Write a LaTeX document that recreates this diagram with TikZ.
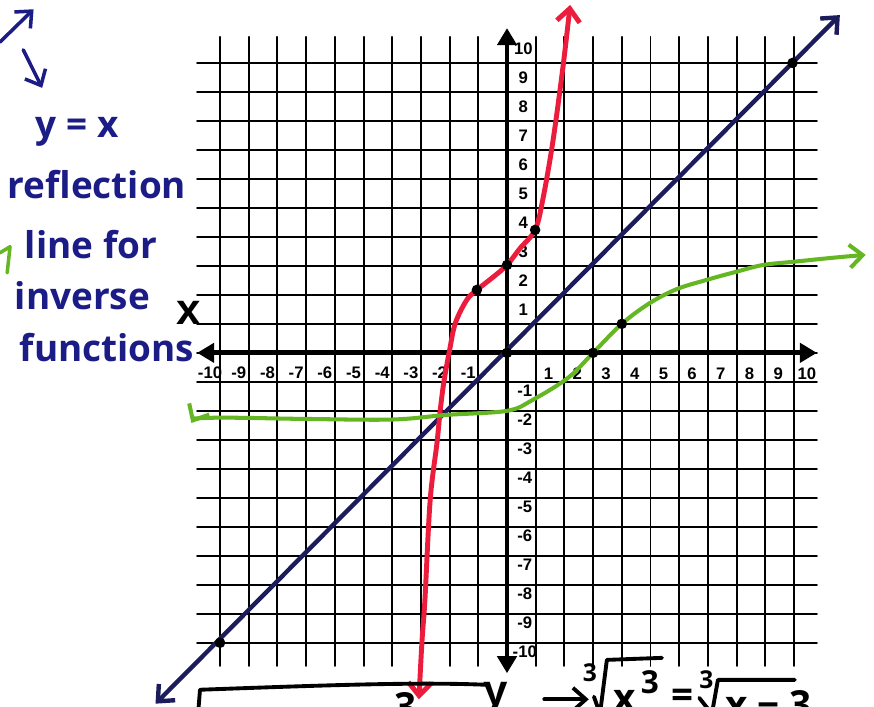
\documentclass[tikz,border=0pt]{standalone}
\usepackage{fontspec}
\setmainfont{Liberation Sans}
\newfontfamily\handfont{Open Sans}
\usetikzlibrary{arrows.meta}
\definecolor{penblue}{RGB}{28,28,135}
\definecolor{linenavy}{RGB}{28,28,92}
\definecolor{penred}{RGB}{236,28,60}
\definecolor{pengreen}{RGB}{100,182,35}
\tikzset{
  barb/.style ={-{Straight Barb[length=2.6mm,width=4.6mm]}},
  barbs/.style={{Straight Barb[length=2.6mm,width=4.6mm]}-{Straight Barb[length=2.6mm,width=4.6mm]}},
}

\begin{document}
\begin{tikzpicture}[x=0.574cm, y=0.58cm, line cap=round, line join=round,
  gridline/.style={line width=1.1pt, black},
  axis/.style={line width=2.8pt, black,
    {Triangle[length=3.4mm,width=3.8mm]}-{Triangle[length=3.4mm,width=3.8mm]}},
  tick/.style={font=\fontsize{9.5}{10}\selectfont\bfseries, inner sep=0pt},
  axlabel/.style={font=\fontsize{25}{26}\selectfont\bfseries, inner sep=0pt, anchor=base},
  hand/.style={font=\handfont\bfseries\fontsize{21}{23}\selectfont, text=penblue, inner sep=0pt},
  ink/.style={line width=2.2pt, black},
  inktext/.style={font=\handfont\bfseries\fontsize{22}{24}\selectfont, inner sep=0pt},
  inksmall/.style={font=\handfont\bfseries\fontsize{14}{15}\selectfont, inner sep=0pt},
  dot/.style={black},
]

%--- Page (874 x 707 px, grid unit about 28.7 px) ---
\useasboundingbox (-17.67,-12.21) rectangle (12.79,12.17);
\fill[white] (-17.67,-12.21) rectangle (12.79,12.17);
\clip (-17.67,-12.21) rectangle (12.79,12.17);

%--- Grid paper ---
\foreach \i in {-10,...,10} {
  \draw[gridline] (\i,-10.8) -- (\i,10.9);
  \draw[gridline] (-10.8,\i) -- (10.8,\i);
}

%--- Axes ---
\coordinate (O) at (0,0);
\coordinate (xL) at (-10.8,0);
\coordinate (xR) at (10.8,0);
\coordinate (yB) at (0,-11.05);
\coordinate (yT) at (0,11.2);
\draw[axis] (xL) -- (xR);
\draw[axis] (yB) -- (yT);

% tick numbers sit in the cells beside the grid lines
\foreach \i in {1,...,10} {
  \node[tick] (xp\i) at (\i+0.45,-0.72) {\i};
  \node[tick] (xn\i) at (-\i-0.35,-0.68) {-\i};
  \node[tick] (yp\i) at (0.57,\i+0.5) {\i};
  \node[tick] (yn\i) at (0.62,-\i-0.3) {-\i};
}
\node[axlabel] (xlab) at (-11.11,0.97) {x};
\node[axlabel] (ylab) at (-0.38,-12.17) {y};

%--- y = x reflection line ---
\coordinate (bl) at (-12.25,-12.1);
\coordinate (tr) at (11.6,11.65);
\draw[linenavy, line width=2.5pt, barbs] (bl) -- (tr);
\fill[dot] (-10,-10) circle[radius=3pt];
\fill[dot] (9.95,10) circle[radius=3pt];

%--- f(x): red curve ---
\coordinate (r1) at (-1.05,2.17);
\coordinate (r2) at (0,3.03);
\coordinate (r3) at (0.98,4.24);
\draw[penred, line width=2.8pt, barbs] plot[smooth, tension=0.55] coordinates {
  (-3.07,-11.95) (-2.96,-9.9) (-2.86,-8.5) (-2.68,-5.1) (-2.44,-3.1)
  (-2.33,-2) (-2.2,-1) (-2,0.1) (-1.8,1.03) (-1.4,1.83) (r1)
  (-0.5,2.6) (r2) (0.45,3.6) (r3) (1.25,5.3) (1.6,7.3) (1.95,9.86) (2.2,12.0)};

%--- inverse: green curve ---
\coordinate (g1) at (3,0);
\coordinate (g2) at (4,1);
\draw[pengreen, line width=2.3pt, barbs] plot[smooth, tension=0.55] coordinates {
  (-11.0,-2.42) (-10.3,-2.24) (-7,-2.28) (-4,-2.3) (-2.1,-2.14) (0,-2.0)
  (0.9,-1.62) (2.13,-0.86) (g1) (g2) (4.98,1.72) (5.92,2.2) (6.97,2.52)
  (8,2.8) (8.92,3.03) (9.97,3.14) (11.36,3.28) (12.5,3.38)};

\foreach \p in {O,r1,r2,r3,g1,g2}
  \fill[dot] (\p) circle[radius=3pt];

%--- Handwritten note ---
\coordinate (a1) at (-17.67,10.72);
\coordinate (a2) at (-16.5,11.85);
\coordinate (a3) at (-16.86,10.45);
\coordinate (a4) at (-16.2,9.14);
\draw[penblue, line width=2pt, barb] (a1) -- (a2);
\draw[penblue, line width=2pt, barb] (a3) -- (a4);
\node[hand] (eqn) at (-14.98,7.62) {y = x};
\node[hand] (refl) at (-14.29,5.79) {reflection};
\node[hand] (linefor) at (-14.5,3.72) {line for};
\node[hand] (inv) at (-14.8,1.97) {inverse};
\node[hand] (funcs) at (-13.94,0.17) {functions};
\draw[pengreen, line width=2pt] (-17.67,3.45) -- (-17.32,3.66) -- (-17.42,2.76);

%--- Working along the bottom edge (cut off) ---
\draw[ink] (-10.77,-12.5) -- (-10.7,-11.62)
  .. controls (-6,-11.45) and (-3,-11.35) .. (-0.7,-11.45);
\node[inktext, anchor=north] (lthree) at (-3.52,-11.72) {3};
\draw[ink, barb] (1.3,-11.95) -- (2.85,-11.95);
\node[inksmall, anchor=north] (idxa) at (2.89,-10.7) {3};
\draw[ink] (3.03,-11.86) -- (3.24,-12.45) -- (3.48,-10.59) -- (5.4,-10.52);
\node[inktext, anchor=north] (xa) at (4.11,-11.62) {x};
\node[inktext, anchor=north, font=\handfont\bfseries\fontsize{18}{19}\selectfont] (expa) at (4.98,-10.93) {3};
\node[inktext] (eq) at (6.1,-11.95) {=};
\node[inksmall, anchor=north] (idxb) at (6.95,-10.95) {3};
\draw[ink] (6.7,-11.9) -- (7.14,-12.45) -- (7.35,-11.28) -- (10.03,-11.28);
\node[inktext, anchor=north west] (xb) at (7.6,-11.62) {x − 3};

\end{tikzpicture}
\end{document}
